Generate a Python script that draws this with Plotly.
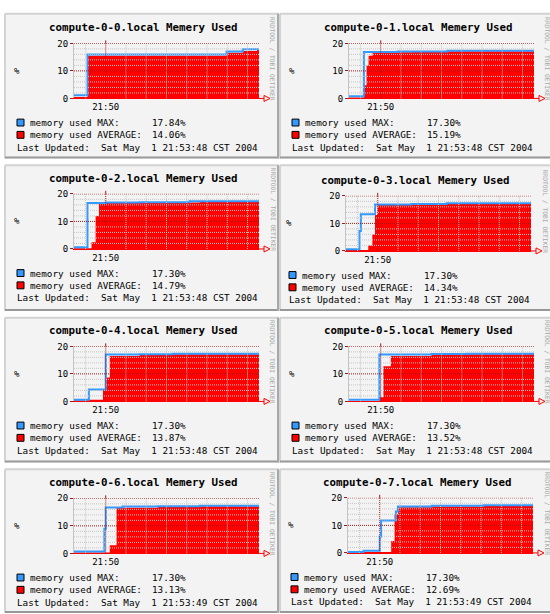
import plotly.graph_objects as go
import pandas as pd

W, H = 550, 614
DAY = "2004-05-01 "

# ---------------- data ----------------
hosts = ["compute-0-0.local", "compute-0-1.local", "compute-0-2.local", "compute-0-3.local",
         "compute-0-4.local", "compute-0-5.local", "compute-0-6.local", "compute-0-7.local"]
max_legend = ["17.84%", "17.30%", "17.30%", "17.30%", "17.30%", "17.30%", "17.30%", "17.30%"]
avg_legend = ["14.06%", "15.19%", "14.79%", "14.34%", "13.87%", "13.52%", "13.13%", "12.69%"]
updated = ["21:53:48", "21:53:48", "21:53:48", "21:53:48", "21:53:48", "21:53:48", "21:53:49", "21:53:49"]
t_start, t_end = "21:49:13", "21:53:47"
major_tick_time = "21:50:00"
major_tick_label = "21:50"
y_ticks = [0, 10, 20]

c0_max_t = ["21:49:13", "21:49:33", "21:52:59", "21:53:23"]
c0_max_v = [1.2, 16.0, 17.0, 17.84]
c0_avg_t = ["21:49:13", "21:49:33", "21:52:59", "21:53:23", "21:53:44"]
c0_avg_v = [0.5, 15.5, 16.6, 17.2, 17.7]

c1_max_t = ["21:49:13", "21:49:35", "21:50:25", "21:51:39"]
c1_max_v = [0.8, 16.9, 17.0, 17.3]
c1_avg_t = ["21:49:13", "21:49:35", "21:49:39", "21:49:42", "21:49:48", "21:50:25", "21:50:46", "21:51:39"]
c1_avg_v = [0.3, 4.8, 12.0, 15.5, 16.5, 16.8, 17.0, 17.1]

c2_max_t = ["21:49:13", "21:49:33", "21:50:00", "21:50:50", "21:52:04"]
c2_max_v = [0.6, 16.7, 16.9, 17.0, 17.3]
c2_avg_t = ["21:49:13", "21:49:39", "21:49:45", "21:49:50", "21:50:00", "21:50:50", "21:52:19"]
c2_avg_v = [0.3, 2.4, 12.0, 16.3, 16.7, 16.9, 17.1]

c3_max_t = ["21:49:13", "21:49:33", "21:49:35", "21:49:56", "21:50:50", "21:51:42"]
c3_max_v = [0.6, 7.2, 13.3, 16.9, 17.0, 17.3]
c3_avg_t = ["21:49:13", "21:49:46", "21:49:52", "21:49:56", "21:50:00", "21:50:50", "21:51:42"]
c3_avg_v = [0.3, 2.0, 6.0, 13.0, 16.7, 16.9, 17.1]

c4_max_t = ["21:49:13", "21:49:35", "21:50:00", "21:50:50", "21:51:39"]
c4_max_v = [0.6, 4.3, 17.0, 17.1, 17.3]
c4_avg_t = ["21:49:13", "21:49:33", "21:49:56", "21:50:01", "21:50:06", "21:50:50", "21:51:39"]
c4_avg_v = [0.3, 0.6, 4.3, 8.7, 16.5, 16.9, 17.1]

c5_max_t = ["21:49:13", "21:49:58", "21:51:15", "21:52:07"]
c5_max_v = [0.6, 17.0, 17.2, 17.3]
c5_avg_t = ["21:49:13", "21:49:58", "21:50:04", "21:50:15", "21:51:15", "21:52:07"]
c5_avg_v = [0.2, 1.5, 12.8, 16.5, 16.9, 17.1]

c6_max_t = ["21:49:13", "21:49:58", "21:50:00", "21:50:25", "21:51:17", "21:52:19"]
c6_max_v = [0.7, 9.0, 16.7, 17.0, 17.1, 17.3]
c6_avg_t = ["21:49:13", "21:50:06", "21:50:16", "21:51:17", "21:52:19"]
c6_avg_v = [0.3, 3.0, 16.6, 16.9, 17.1]

c7_max_t = ["21:49:13", "21:49:36", "21:50:00", "21:50:02", "21:50:24", "21:50:27", "21:51:17", "21:52:34"]
c7_max_v = [0.3, 0.8, 6.0, 11.8, 15.0, 16.9, 17.1, 17.3]
c7_avg_t = ["21:49:13", "21:50:17", "21:50:22", "21:50:27", "21:51:17", "21:52:34"]
c7_avg_v = [0.3, 4.3, 14.0, 16.6, 16.9, 17.1]

max_t = [c0_max_t, c1_max_t, c2_max_t, c3_max_t, c4_max_t, c5_max_t, c6_max_t, c7_max_t]
max_v = [c0_max_v, c1_max_v, c2_max_v, c3_max_v, c4_max_v, c5_max_v, c6_max_v, c7_max_v]
avg_t = [c0_avg_t, c1_avg_t, c2_avg_t, c3_avg_t, c4_avg_t, c5_avg_t, c6_avg_t, c7_avg_t]
avg_v = [c0_avg_v, c1_avg_v, c2_avg_v, c3_avg_v, c4_avg_v, c5_avg_v, c6_avg_v, c7_avg_v]

# ---------------- layout geometry (pixels) ----------------
PLOT_W, PLOT_H = 185, 56
plot_left = [74, 349, 74, 346, 74, 349, 74, 348]
plot_top = [39, 39, 192, 194, 347, 347, 501.5, 501]
panel_top = [9, 163, 318, 472]
panel_bottom = [156, 311, 465, 618]
panel_cols = [(5, 279), (280, 553)]

BLUE = "#3399ff"
RED = "#ff0000"
MGRID = "#a01818"
GRID = "#c6c6c6"
MONO = "DejaVu Sans Mono"


def px(x):
    return x / W


def py(y):
    return 1 - y / H


fig = go.Figure()
layout = {}
shapes = []
annotations = []

# panel backgrounds
for r in range(4):
    for c in range(2):
        x0, x1 = panel_cols[c]
        y0, y1 = panel_top[r], panel_bottom[r]
        shapes.append(dict(type="rect", xref="paper", yref="paper", x0=px(x0), x1=px(x1),
                           y0=py(y1), y1=py(y0), fillcolor="#f3f3f3", line=dict(width=0), layer="below"))
        shapes.append(dict(type="line", xref="paper", yref="paper", x0=px(x0), x1=px(x1),
                           y0=py(y0), y1=py(y0), line=dict(color="#d2d2d2", width=2), layer="below"))
        shapes.append(dict(type="line", xref="paper", yref="paper", x0=px(x0), x1=px(x0),
                           y0=py(y0), y1=py(y1), line=dict(color="#d2d2d2", width=2), layer="below"))
        shapes.append(dict(type="line", xref="paper", yref="paper", x0=px(x0), x1=px(x1),
                           y0=py(y1 - 1), y1=py(y1 - 1), line=dict(color="#989898", width=2), layer="below"))
        shapes.append(dict(type="line", xref="paper", yref="paper", x0=px(x1 - 1), x1=px(x1 - 1),
                           y0=py(y0), y1=py(y1), line=dict(color="#a8a8a8", width=2), layer="below"))

minor_times = pd.date_range(DAY + "21:49:30", DAY + "21:53:30", freq="30s")
tick_font = dict(family=MONO, size=9, color="#000000")
leg_font = dict(family=MONO, size=9.3, color="#000000")

for i in range(8):
    L, T = plot_left[i], plot_top[i]
    B = T + PLOT_H
    n = "" if i == 0 else str(i + 1)
    xa, ya = "x" + n, "y" + n

    layout["xaxis" + n] = dict(
        domain=[px(L), px(L + PLOT_W)], anchor=ya, type="date",
        range=[DAY + t_start, DAY + t_end], tickmode="array",
        tickvals=[DAY + major_tick_time], ticktext=[major_tick_label],
        showgrid=False, zeroline=False, showline=True, linecolor=RED, linewidth=1,
        ticks="", tickfont=tick_font, fixedrange=True)
    layout["yaxis" + n] = dict(
        domain=[py(B), py(T)], anchor=xa, range=[0, 20], tickmode="array",
        tickvals=y_ticks, showgrid=False, zeroline=False, showline=True,
        linecolor="#c4c4c4", linewidth=1, ticks="outside", ticklen=3, tickcolor=MGRID,
        tickfont=tick_font, fixedrange=True)

    ax = [DAY + t for t in avg_t[i]] + [DAY + t_end]
    ay = avg_v[i] + [avg_v[i][-1]]
    mx = [DAY + t for t in max_t[i]] + [DAY + t_end]
    my = max_v[i] + [max_v[i][-1]]
    fig.add_trace(go.Scatter(x=ax, y=ay, mode="lines", line=dict(shape="hv", width=0, color=RED),
                             fill="tozeroy", fillcolor=RED, xaxis=xa, yaxis=ya,
                             showlegend=False, hoverinfo="skip"))
    fig.add_trace(go.Scatter(x=mx, y=my, mode="lines", line=dict(shape="hv", width=2, color=BLUE),
                             xaxis=xa, yaxis=ya, showlegend=False, hoverinfo="skip"))

    # grid on top of the data (rrdtool style)
    for t in minor_times:
        is_major = t == pd.Timestamp(DAY + major_tick_time)
        shapes.append(dict(type="line", xref=xa, yref=ya + " domain", x0=t, x1=t, y0=0, y1=1,
                           line=dict(color=MGRID if is_major else GRID, width=1, dash="1px,1px")))
        if is_major:
            shapes.append(dict(type="line", xref=xa, yref=ya + " domain", x0=t, x1=t,
                               yanchor=1, ysizemode="pixel", y0=0, y1=3,
                               line=dict(color=MGRID, width=1)))
    for v in range(2, 21, 2):
        shapes.append(dict(type="line", xref=xa + " domain", yref=ya, x0=0, x1=1, y0=v, y1=v,
                           line=dict(color=MGRID if v % 10 == 0 else GRID, width=1, dash="1px,1px")))
    # axis arrow
    shapes.append(dict(type="path", xref=xa + " domain", yref=ya + " domain",
                       xanchor=1, yanchor=0, xsizemode="pixel", ysizemode="pixel",
                       path="M0,0 L5,0 M5,-3 L5,3 L11,0 Z",
                       line=dict(color=RED, width=1), fillcolor="rgba(0,0,0,0)"))

    # texts
    annotations.append(dict(x=px(L + 69), y=py(T - 16), xref="paper", yref="paper",
                            text=hosts[i] + " Memery Used", showarrow=False,
                            xanchor="center", yanchor="middle",
                            font=dict(family=MONO, size=10.8, color="#000000", weight="bold")))
    annotations.append(dict(x=px(L - 57), y=py(T + PLOT_H / 2), xref="paper", yref="paper",
                            text="%", showarrow=False, xanchor="center", yanchor="middle",
                            font=tick_font))
    annotations.append(dict(x=px(L + 199), y=py(T + PLOT_H / 2 - 12), xref="paper", yref="paper",
                            text="RRDTOOL / TOBI OETIKER", showarrow=False, textangle=90,
                            xanchor="center", yanchor="middle",
                            font=dict(family=MONO, size=6.3, color="#a8a8a8")))
    for k, (col, lab, val) in enumerate([(BLUE, "memory used MAX:", max_legend[i]),
                                          (RED, "memory used AVERAGE:", avg_legend[i])]):
        yc = B + 24.5 + 12.5 * k
        shapes.append(dict(type="rect", xref="paper", yref="paper",
                           x0=px(L - 57), x1=px(L - 50), y0=py(yc + 3.5), y1=py(yc - 3.5),
                           fillcolor=col, line=dict(color="#000000", width=1)))
        annotations.append(dict(x=px(L - 46), y=py(yc), xref="paper", yref="paper", text=lab,
                                showarrow=False, xanchor="left", yanchor="middle", font=leg_font))
        annotations.append(dict(x=px(L + 76), y=py(yc), xref="paper", yref="paper", text=val,
                                showarrow=False, xanchor="left", yanchor="middle", font=leg_font))
    annotations.append(dict(x=px(L - 59), y=py(B + 49.5), xref="paper", yref="paper",
                            text="Last Updated:\u00a0\u00a0Sat May\u00a0\u00a01 " + updated[i] + " CST 2004",
                            showarrow=False, xanchor="left", yanchor="middle", font=leg_font))

fig.update_layout(**layout)
fig.update_layout(width=W, height=H, margin=dict(l=0, r=0, t=0, b=0),
                  paper_bgcolor="#ffffff", plot_bgcolor="#ffffff",
                  shapes=shapes, annotations=annotations, showlegend=False)
fig.write_html("out.html", config={"displayModeBar": False},
               post_script="document.body.style.margin='0';document.body.style.overflow='hidden';")
